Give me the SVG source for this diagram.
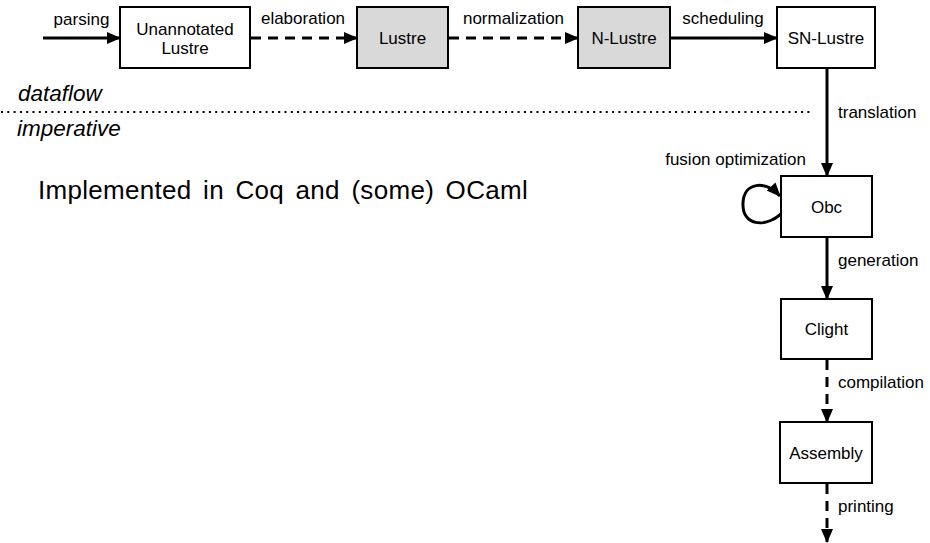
<svg xmlns="http://www.w3.org/2000/svg" width="930" height="543" viewBox="0 0 930 543">
  <style>
    .box { fill: #ffffff; stroke: #000000; stroke-width: 2; }
    .grey { fill: #d9d9d9; }
    .name { font-family: "Liberation Sans", Arial, sans-serif; font-size: 17px; fill: #000000; text-anchor: middle; }
    .lbl { font-family: "Liberation Sans", Arial, sans-serif; font-size: 17px; fill: #000000; }
    .mid { text-anchor: middle; }
    .side { font-family: "Liberation Sans", Arial, sans-serif; font-style: italic; font-size: 22.5px; fill: #000000; }
    .big { font-family: "Liberation Sans", Arial, sans-serif; font-size: 26px; letter-spacing: 0.3px; word-spacing: 4px; fill: #000000; }
    .edge { fill: none; stroke: #000000; stroke-width: 3; }
    .dash { stroke-dasharray: 10 7; }
    .sep { fill: none; stroke: #000000; stroke-width: 2; stroke-dasharray: 2 4.3; }
  </style>
  <defs>
    <marker id="head" viewBox="0 0 14 12" refX="13" refY="6" markerUnits="userSpaceOnUse" markerWidth="14" markerHeight="12" orient="auto">
      <path d="M0,0 L14,6 L0,12 z" fill="#000000"/>
    </marker>
  </defs>

  <!-- dataflow / imperative separator -->
  <line class="sep" x1="1" y1="112" x2="812" y2="112"/>
  <text class="side" x="18" y="101">dataflow</text>
  <text class="side" x="17" y="136">imperative</text>

  <text class="big" x="38" y="199">Implemented in Coq and (some) OCaml</text>

  <!-- nodes -->
  <g id="unannotated">
    <rect class="box" x="120" y="7" width="130" height="61"/>
    <text class="name" x="185" y="35">Unannotated</text>
    <text class="name" x="185" y="54">Lustre</text>
  </g>
  <g id="lustre">
    <rect class="box grey" x="357" y="7" width="91" height="61"/>
    <text class="name" x="402.5" y="43.5">Lustre</text>
  </g>
  <g id="nlustre">
    <rect class="box grey" x="578" y="7" width="92" height="61"/>
    <text class="name" x="624" y="43.5">N-Lustre</text>
  </g>
  <g id="snlustre">
    <rect class="box" x="777" y="7" width="98" height="61"/>
    <text class="name" x="826" y="43.5">SN-Lustre</text>
  </g>
  <g id="obc">
    <rect class="box" x="781" y="176" width="91" height="61"/>
    <text class="name" x="826.5" y="212.5">Obc</text>
  </g>
  <g id="clight">
    <rect class="box" x="781" y="299" width="91" height="60"/>
    <text class="name" x="826.5" y="335">Clight</text>
  </g>
  <g id="assembly">
    <rect class="box" x="780" y="422" width="92" height="61"/>
    <text class="name" x="826" y="458.5">Assembly</text>
  </g>

  <!-- connectors -->
  <g id="connectors">
    <line class="edge" x1="43" y1="38" x2="120" y2="38" marker-end="url(#head)"/>
    <line class="edge dash" x1="251" y1="38" x2="357" y2="38" marker-end="url(#head)"/>
    <line class="edge dash" x1="449" y1="38" x2="578" y2="38" marker-end="url(#head)"/>
    <line class="edge" x1="671" y1="38" x2="777" y2="38" marker-end="url(#head)"/>
    <line class="edge" x1="827" y1="68" x2="827" y2="176" marker-end="url(#head)"/>
    <path class="edge" d="M781,214 C765,228 742,226 743,203 C744,182 765,180 780,196" marker-end="url(#head)"/>
    <line class="edge" x1="827" y1="237" x2="827" y2="299" marker-end="url(#head)"/>
    <line class="edge dash" x1="827" y1="360" x2="827" y2="422" marker-end="url(#head)"/>
    <line class="edge dash" x1="827" y1="484" x2="827" y2="542" marker-end="url(#head)"/>

    <text class="lbl mid" x="81.5" y="25">parsing</text>
    <text class="lbl mid" x="303" y="24">elaboration</text>
    <text class="lbl mid" x="513.5" y="24">normalization</text>
    <text class="lbl mid" x="723" y="24">scheduling</text>
    <text class="lbl" x="838" y="118">translation</text>
    <text class="lbl" x="806" y="165" text-anchor="end">fusion optimization</text>
    <text class="lbl" x="838" y="266">generation</text>
    <text class="lbl" x="838" y="388">compilation</text>
    <text class="lbl" x="838" y="512">printing</text>
  </g>
</svg>
